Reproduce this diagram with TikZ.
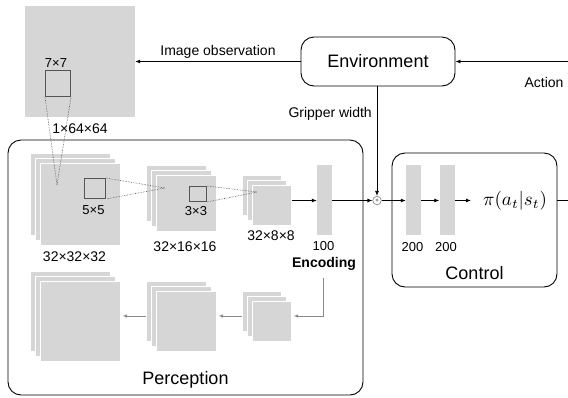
\documentclass[tikz,border=0pt]{standalone}
\usepackage{fontspec}
\setmainfont{Liberation Sans}
\usetikzlibrary{arrows.meta,calc}
\definecolor{fm}{HTML}{D6D6D6}
\definecolor{dk}{HTML}{555555}
\definecolor{ga}{HTML}{8A8A8A}
\begin{document}
\begin{tikzpicture}[x=1pt,y=-1pt,
  fmap/.style={fill=fm, draw=white, line width=0.6pt, inner sep=0, anchor=north west},
  bar/.style={fill=fm, draw=none, inner sep=0, minimum width=15, minimum height=70},
  lbl/.style={font=\fontsize{14}{16}\selectfont, inner sep=0, anchor=base},
  slbl/.style={font=\fontsize{13}{15}\selectfont, inner sep=0, anchor=base},
  big/.style={font=\fontsize{18}{21}\selectfont},
  frame/.style={draw, rounded corners=13pt, line width=0.9pt, inner sep=0},
  arr/.style={-{Latex[length=5pt,width=4pt]}, line width=0.8pt},
  garr/.style={draw=ga, -{Latex[length=4.5pt,width=3.5pt]}, line width=0.8pt},
  dotl/.style={draw=dk, densely dotted, line width=0.6pt},
  kbox/.style={draw=dk, line width=1pt, inner sep=0, anchor=north west}]
\useasboundingbox (0,0) rectangle (568,397);
\clip (0,0) rectangle (568,397);

% frames
\node[frame, minimum width=355, minimum height=255] (perc) at (185.5,267.5) {};
\node[frame, minimum width=165, minimum height=134] (ctrl) at (474.5,220) {};
\node[frame, minimum width=154, minimum height=49, big] (env) at (378,61.5) {Environment};

% image observation
\node[fill=fm, inner sep=0, minimum width=110, minimum height=111] (img) at (80,61.5) {};
\node[kbox, minimum width=25, minimum height=26] (k7) at (45,70) {};
\node[slbl] (t77) at (56,67) {7×7};
\node[lbl] (t164) at (80,133) {1×64×64};

% encoder maps
\node[fmap, minimum width=80, minimum height=82] (l1a) at (30,153) {};
\node[fmap, minimum width=80, minimum height=82] (l1b) at (35,158) {};
\node[fmap, minimum width=80, minimum height=82] (l1c) at (40,163) {};
\node[fmap, minimum width=60, minimum height=56] (l2a) at (146,165) {};
\node[fmap, minimum width=60, minimum height=56] (l2b) at (151,170) {};
\node[fmap, minimum width=60, minimum height=56] (l2c) at (156,175) {};
\node[fmap, minimum width=39, minimum height=40] (l3a) at (242,175) {};
\node[fmap, minimum width=39, minimum height=40] (l3b) at (247,180) {};
\node[fmap, minimum width=39, minimum height=40] (l3c) at (252,185) {};
\node[kbox, minimum width=21, minimum height=20] (k5) at (84,178) {};
\node[kbox, minimum width=17, minimum height=15] (k3) at (189,186) {};
\node[slbl] (t55) at (93.5,214) {5×5};
\node[slbl] (t33) at (196,215) {3×3};
\node[lbl] (t32) at (74.5,261) {32×32×32};
\node[lbl] (t16) at (185,251) {32×16×16};
\node[lbl] (t8) at (271,240) {32×8×8};

% dotted receptive fields
\coordinate (p1) at (57,185);
\coordinate (p2) at (165,188);
\coordinate (p3) at (257,192);
\draw[dotl] (k7.south west) -- (p1) -- (k7.south east);
\draw[dotl] (k5.north east) -- (p2) -- (k5.south east);
\draw[dotl] (k3.north east) -- (p3) -- (k3.south east);

% encoding
\node[bar] (enc) at (324.5,200) {};
\node[slbl] (t100) at (323.5,250) {100};
\node[lbl, font=\fontsize{14}{16}\selectfont\bfseries] (tenc) at (324,267) {Encoding};

% decoder maps
\node[fmap, minimum width=80, minimum height=80] (d1a) at (30,271) {};
\node[fmap, minimum width=80, minimum height=80] (d1b) at (35,276) {};
\node[fmap, minimum width=80, minimum height=80] (d1c) at (40,281) {};
\node[fmap, minimum width=60, minimum height=60] (d2a) at (146,281) {};
\node[fmap, minimum width=60, minimum height=60] (d2b) at (151,286) {};
\node[fmap, minimum width=60, minimum height=60] (d2c) at (156,291) {};
\node[fmap, minimum width=39, minimum height=40] (d3a) at (242,291) {};
\node[fmap, minimum width=39, minimum height=40] (d3b) at (247,296) {};
\node[fmap, minimum width=39, minimum height=40] (d3c) at (252,301) {};
\coordinate (dtop) at (323,278);
\coordinate (g1) at (323,316);
\draw[garr] (dtop) -- (g1) -- ([xshift=2pt]d3c.east |- g1);
\draw[garr] (d3a.west |- g1) -- ([xshift=2pt]d2c.east |- g1);
\draw[garr] (d2a.west |- g1) -- ([xshift=2pt]d1c.east |- g1);
\node[lbl, big] (tperc) at (185.5,384) {Perception};

% control
\node[circle, draw=ga, line width=0.7pt, minimum size=8.5pt, inner sep=0, font=\fontsize{6}{6}\selectfont] (sum) at (377,200.5) {+};
\node[bar] (b1) at (413.5,200) {};
\node[bar] (b2) at (447,200) {};
\node[slbl] (t200a) at (412.5,251) {200};
\node[slbl] (t200b) at (446,251) {200};
\node[inner sep=0, scale=1.9] (pi) at (515,201) {$\pi(a_t|s_t)$};
\coordinate (piin) at (471,200.5);
\node[lbl, big] (tctrl) at (474.5,279) {Control};

% flow arrows
\draw[arr] (l3c.east |- sum) -- (enc.west |- sum);
\draw[arr] (enc.east |- sum) -- (sum.west);
\draw[arr] (sum.east) -- (b1.west |- sum);
\draw[arr] (b1.east |- sum) -- (b2.west |- sum);
\draw[arr] (b2.east |- sum) -- (piin);

% environment links
\draw[arr] (env.west) -- (img.east);
\node[lbl] (timg) at (218,55) {Image observation};
\draw[arr] (sum |- env.south) -- (sum.north);
\node[lbl, anchor=base east] (tgrip) at (372,117) {Gripper width};
\coordinate (loopR) at (590,200.5);
\draw[arr] (ctrl.east |- sum) -- (loopR) |- (env.east);
\node[lbl] (tact) at (544,87) {Action};
\end{tikzpicture}
\end{document}
